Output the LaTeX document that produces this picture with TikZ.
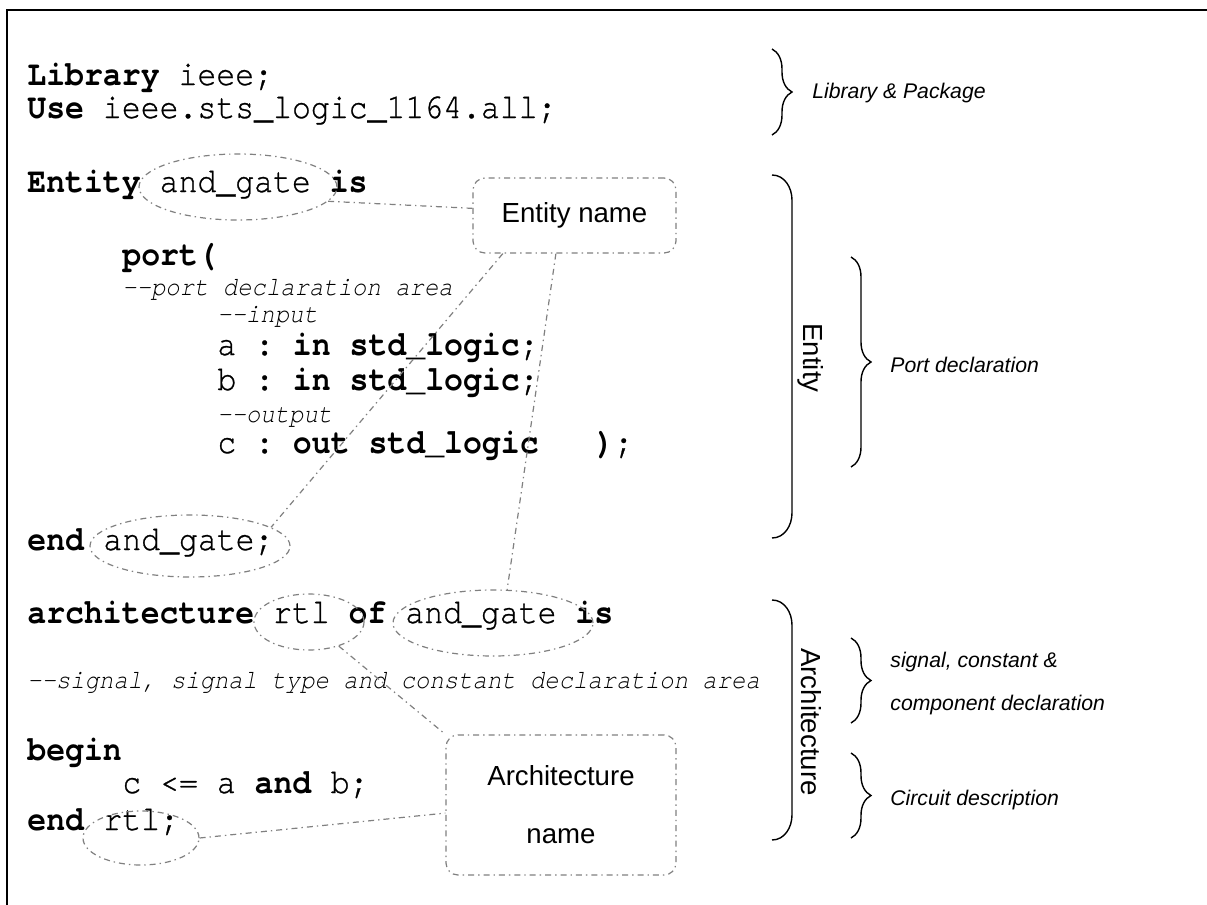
\documentclass[tikz,border=0pt]{standalone}
\usepackage{fontspec}
\setmainfont{Liberation Sans}
\setmonofont{TeX Gyre Cursor}[FakeStretch=0.9, UprightFeatures={FakeBold=0.8}]
\usetikzlibrary{shapes.geometric,decorations.pathreplacing}

\begin{document}
\begin{tikzpicture}[x=0.5pt, y=-0.5pt,
    code/.style={anchor=base west, inner sep=0pt, font=\ttfamily\fontsize{17.5}{20}\selectfont},
    remark/.style={anchor=base west, inner sep=0pt, font=\ttfamily\itshape\fontsize{13.3}{15}\selectfont},
    dashdot/.style={draw=gray, line width=0.6pt, dash pattern=on 3pt off 2pt on 0.7pt off 2pt},
    hilite/.style={dashdot, ellipse, inner sep=0pt},
    namebox/.style={dashdot, rounded corners=6pt, align=center, text=black, font=\fontsize{13.8}{29}\selectfont},
    link/.style={dashdot},
    part/.style={line width=0.7pt, decorate, decoration={brace, amplitude=10pt}},
    block/.style={line width=0.7pt},
    note/.style={anchor=west, inner sep=0pt, font=\itshape\fontsize{10.6}{12}\selectfont},
    group/.style={rotate=-90, inner sep=0pt, font=\fontsize{13.8}{16}\selectfont}]
  \useasboundingbox (0,0) rectangle (1207,905);
  \fill[white] (0,0) rectangle (1207,905);
  \draw[line width=1pt] (7,905) -- (7,10) -- (1207,10);

  % library and package
  \node[code] (lib) at (27,85) {\textbf{Library} ieee;};
  \node[code] (use) at (27,118) {\textbf{Use} ieee.sts\_logic\_1164.all;};

  % entity
  \node[code] (ent) at (27,192) {\textbf{Entity} and\_gate \textbf{is}};
  \node[code] (port) at (122,265) {\textbf{port(}};
  \node[remark] (portcmt) at (122,295) {-{}-port declaration area};
  \node[remark] (incmt) at (217,322) {-{}-input};
  \node[code] (pa) at (217,355) {a : \textbf{in std\_logic};};
  \node[code] (pb) at (217,390) {b : \textbf{in std\_logic};};
  \node[remark] (outcmt) at (217,422) {-{}-output};
  \node[code] (pc) at (217,453) {c : \textbf{out std\_logic}\ \ \ \textbf{)};};
  \node[code] (entend) at (27,550) {\textbf{end} and\_gate;};

  % architecture
  \node[code] (arch) at (27,623) {\textbf{architecture} rtl \textbf{of} and\_gate \textbf{is}};
  \node[remark] (sigcmt) at (27,688) {-{}-signal, signal type and constant declaration area};
  \node[code] (beg) at (27,760) {\textbf{begin}};
  \node[code] (assign) at (122,793) {c <= a \textbf{and} b;};
  \node[code] (archend) at (27,830) {\textbf{end} rtl;};

  % circled names
  \node[hilite, minimum width=99pt, minimum height=33pt] (gateE) at (238,187) {};
  \node[hilite, minimum width=100pt, minimum height=31pt] (gateEnd) at (190,546) {};
  \node[hilite, minimum width=55pt, minimum height=28pt] (rtlArch) at (309,622) {};
  \node[hilite, minimum width=100pt, minimum height=33pt] (gateArch) at (493,623) {};
  \node[hilite, minimum width=58pt, minimum height=27pt] (rtlEnd) at (141,838) {};

  \node[namebox, minimum width=101.5pt, minimum height=37.5pt] (entname) at (574.5,215.5) {Entity name};
  \node[namebox, minimum width=115pt, minimum height=70pt] (archname) at (561,805) {Architecture\\name};

  \draw[link] (gateE.-9) -- (entname.176);
  \draw[link] (entname.208) -- (gateEnd.13);
  \draw[link] (entname.244) -- (gateArch.67);
  \draw[link] (rtlArch.-39) -- (archname.north west);
  \draw[link] (rtlEnd.east) -- (archname.184);

  % braces on the right
  \draw[part] (772,49) -- (772,135);
  \node[note] (libnote) at (812,93) {Library \& Package};

  \draw[block] (772,175) to[out=0,in=90] (792,200) -- (792,513) to[out=-90,in=0] (772,538);
  \node[group] (entgrp) at (811,358) {Entity};
  \draw[part] (851,257) -- (851,467);
  \node[note] (portnote) at (890,365) {Port declaration};

  \draw[block] (772,600) to[out=0,in=90] (792,625) -- (792,815) to[out=-90,in=0] (772,840);
  \node[group] (archgrp) at (811,722) {Architecture};
  \draw[part] (851,638) -- (851,723);
  \node[note] (signote) at (890,662) {signal, constant \&};
  \node[note] (compnote) at (890,705) {component declaration};
  \draw[part] (851,753) -- (851,838);
  \node[note] (cirnote) at (890,800) {Circuit description};
\end{tikzpicture}
\end{document}
